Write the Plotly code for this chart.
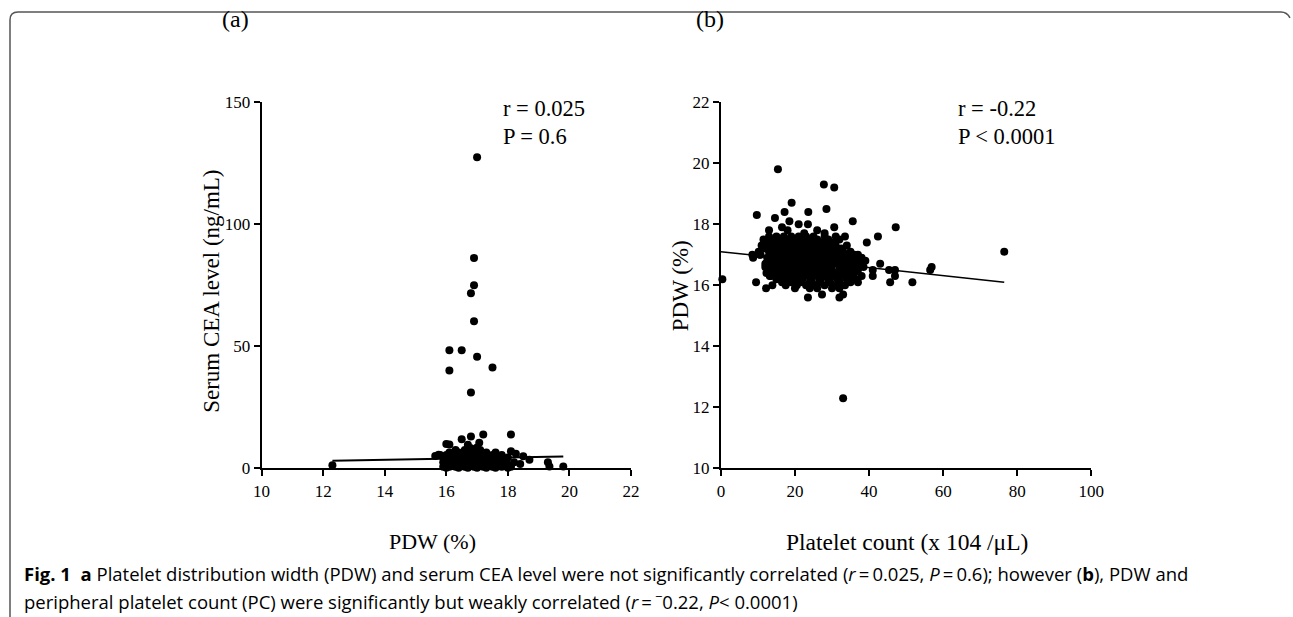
import plotly.graph_objects as go

W, H = 1293, 617
# effective drawing canvas observed in the renderer (page inset)
OFFX, EW = 8, 1274
OFFY, EH = 7, 604

# ---------------- Panel (a): PDW vs serum CEA ----------------
a_outliers = [(17.0, 127.4), (16.9, 86.2), (16.9, 75.0), (16.8, 71.7), (16.9, 60.3),
              (16.1, 48.4), (16.5, 48.4), (17.0, 45.7), (16.1, 40.1), (17.5, 41.3),
              (16.8, 31.1), (17.2, 13.9), (18.1, 13.9), (16.8, 13.1), (16.5, 11.9),
              (16.0, 10.0), (16.1, 9.8), (16.7, 9.7), (17.07, 10.5), (18.1, 7.0),
              (12.3, 1.3), (19.8, 0.8), (19.3, 2.5), (19.35, 0.8), (18.7, 3.5),
              (18.4, 1.8), (18.26, 6.0), (18.5, 5.0), (15.64, 5.1), (15.75, 5.6)]
a_cluster = [
    (16.3, 7.5), (16.6, 7.5), (16.9, 7.5), (17.1, 7.5), (17.0, 8.6), (16.8, 8.2),
    (16.1, 6.5), (16.4, 6.5), (16.7, 6.5), (17.0, 6.5), (17.3, 6.5), (17.6, 6.5),
    (15.8, 5.5), (16.0, 5.5), (16.3, 5.5), (16.6, 5.5), (16.9, 5.5), (17.2, 5.5), (17.5, 5.5), (17.8, 5.5),
    (15.9, 4.5), (16.2, 4.5), (16.5, 4.5), (16.8, 4.5), (17.1, 4.5), (17.4, 4.5), (17.7, 4.5), (18.0, 4.5),
    (16.0, 3.5), (16.3, 3.5), (16.6, 3.5), (16.9, 3.5), (17.2, 3.5), (17.5, 3.5), (17.8, 3.5),
    (15.9, 2.5), (16.1, 2.5), (16.4, 2.5), (16.7, 2.5), (17.0, 2.5), (17.3, 2.5), (17.6, 2.5), (17.9, 2.5), (18.2, 2.5),
    (16.0, 1.5), (16.2, 1.5), (16.5, 1.5), (16.8, 1.5), (17.1, 1.5), (17.4, 1.5), (17.7, 1.5), (18.0, 1.5),
    (15.9, 0.7), (16.1, 0.7), (16.3, 0.7), (16.6, 0.7), (16.9, 0.7), (17.2, 0.7), (17.5, 0.7), (17.8, 0.7), (18.1, 0.7),
    (16.0, 0.3), (16.4, 0.3), (16.7, 0.3), (17.0, 0.3), (17.3, 0.3), (17.6, 0.3), (18.0, 0.3),
]
a_fit_x = [12.3, 19.8]
a_fit_y = [3.1, 4.9]

# ---------------- Panel (b): platelet count vs PDW ----------------
b_outliers = [(0.4, 16.2), (15.4, 19.8), (27.8, 19.3), (30.6, 19.2), (19.1, 18.7), (28.5, 18.5),
              (9.7, 18.3), (17.2, 18.4), (23.6, 18.4), (14.6, 18.2), (35.6, 18.1), (47.2, 17.9),
              (30.6, 17.9), (42.4, 17.6), (39.4, 17.4), (76.5, 17.1), (56.9, 16.6), (56.5, 16.5),
              (51.7, 16.1), (45.7, 16.1), (43.0, 16.7), (45.4, 16.5), (47.0, 16.5), (47.0, 16.3),
              (33.0, 12.3), (23.5, 15.6), (27.3, 15.7), (32.0, 15.6), (33.0, 15.7), (9.5, 16.1),
              (8.5, 17.0), (8.7, 16.9), (10.2, 17.1), (10.7, 17.0), (12.2, 15.9), (13.9, 16.0),
              (12.0, 16.6), (12.3, 16.4), (13.2, 16.3), (41.0, 16.5), (41.0, 16.3), (39.0, 16.8)]
b_cluster = [
    (13, 17.6), (15, 17.6), (17, 17.6), (19, 17.6), (21, 17.6), (23, 17.6), (25, 17.6), (28, 17.6), (31, 17.6), (33.5, 17.6),
    (11.5, 17.5), (14, 17.5), (16, 17.5), (18, 17.5), (20, 17.5), (22, 17.5), (24, 17.5), (26, 17.5), (29, 17.5), (32, 17.5),
    (12.5, 17.4), (15, 17.4), (17.5, 17.4), (19.5, 17.4), (21.5, 17.4), (23.5, 17.4), (25.5, 17.4), (27.5, 17.4), (30.5, 17.4), (34, 17.3),
    (11, 17.3), (13.5, 17.3), (16, 17.3), (18.5, 17.3), (20.5, 17.3), (22.5, 17.3), (24.5, 17.3), (26.5, 17.3), (29, 17.3), (31, 17.3),
    (12, 17.2), (14.5, 17.2), (17, 17.2), (19, 17.2), (21, 17.2), (23, 17.2), (25, 17.2), (27, 17.2), (28.5, 17.2), (30, 17.2), (32.5, 17.2), (35, 17.1),
    (13, 17.1), (15.5, 17.1), (18, 17.1), (20, 17.1), (22, 17.1), (24, 17.1), (26, 17.1), (28, 17.1), (31, 17.1), (33, 17.1), (36, 17.0),
    (10.5, 17.0), (14, 17.0), (16.5, 17.0), (19, 17.0), (21, 17.0), (23, 17.0), (25, 17.0), (27, 17.0), (29.5, 17.0), (32, 17.0), (34.5, 17.0), (37, 17.0),
    (12.5, 16.9), (15, 16.9), (17.5, 16.9), (20, 16.9), (22, 16.9), (24, 16.9), (26, 16.9), (28, 16.9), (30.5, 16.9), (33, 16.9), (35.5, 16.9), (38, 16.9),
    (13.5, 16.8), (16, 16.8), (18.5, 16.8), (21, 16.8), (23, 16.8), (25, 16.8), (27.5, 16.8), (29.5, 16.8), (31.5, 16.8), (34, 16.8), (36.5, 16.8),
    (12, 16.7), (14.5, 16.7), (17, 16.7), (19.5, 16.7), (22, 16.7), (24, 16.7), (26, 16.7), (28.5, 16.7), (30.5, 16.7), (33, 16.7), (35, 16.7), (37.5, 16.7),
    (13, 16.6), (15.5, 16.6), (18, 16.6), (20.5, 16.6), (23, 16.6), (25.5, 16.6), (27, 16.6), (29, 16.6), (32, 16.6), (34, 16.6), (36, 16.6), (38.5, 16.6),
    (14, 16.5), (16.5, 16.5), (19, 16.5), (21.5, 16.5), (24, 16.5), (26.5, 16.5), (28, 16.5), (30, 16.5), (33, 16.5), (35, 16.5), (37, 16.5),
    (15, 16.4), (17.5, 16.4), (20, 16.4), (22.5, 16.4), (25, 16.4), (27.5, 16.4), (29.5, 16.4), (31.5, 16.4), (34, 16.4), (36, 16.4),
    (13.5, 16.3), (16, 16.3), (18.5, 16.3), (21, 16.3), (23.5, 16.3), (26, 16.3), (28.5, 16.3), (30.5, 16.3), (33, 16.3), (35.5, 16.3), (38, 16.3),
    (15, 16.2), (17.5, 16.2), (20, 16.2), (22, 16.2), (24.5, 16.2), (27, 16.2), (29, 16.2), (31.5, 16.2), (34, 16.2), (36.5, 16.2),
    (16.5, 16.1), (19, 16.1), (21.5, 16.1), (24, 16.1), (26.5, 16.1), (29.5, 16.1), (32, 16.1), (35, 16.1), (37, 16.1),
    (17.5, 16.0), (20.5, 16.0), (23, 16.0), (25.5, 16.0), (28, 16.0), (31, 16.0), (33.5, 16.0),
    (20, 15.9), (24, 15.9), (26, 15.9), (30, 15.9), (32, 15.9),
    (16.5, 17.9), (18.5, 18.1), (21, 18.0), (23.5, 18.0), (26, 17.8), (28, 17.7), (13, 17.8), (18, 17.8), (22.5, 17.7),
]
b_fit_x = [0, 76.5]
b_fit_y = [17.1, 16.1]

# ---------------- Texts ----------------
a_stats = ["r = 0.025", "P = 0.6"]
b_stats = ["r = -0.22", "P < 0.0001"]
a_xticks = [10, 12, 14, 16, 18, 20, 22]
a_yticks = [0, 50, 100, 150]
b_xticks = [0, 20, 40, 60, 80, 100]
b_yticks = [10, 12, 14, 16, 18, 20, 22]

SERIF = "Liberation Serif, Times New Roman, serif"
CAPF = "Open Sans, Noto Sans, sans-serif"


def px2x(px):
    return (px - OFFX) / EW


def px2y(py):
    return 1 - (py - OFFY) / EH


a_pts = a_outliers + a_cluster
b_pts = b_outliers + b_cluster

fig = go.Figure()
mk = dict(color="black", size=8, line=dict(width=0))
fig.add_trace(go.Scatter(x=[p[0] for p in a_pts], y=[p[1] for p in a_pts], mode="markers",
                         marker=mk, cliponaxis=False, xaxis="x", yaxis="y", showlegend=False))
fig.add_trace(go.Scatter(x=a_fit_x, y=a_fit_y, mode="lines", line=dict(color="black", width=2),
                         xaxis="x", yaxis="y", showlegend=False))
fig.add_trace(go.Scatter(x=[p[0] for p in b_pts], y=[p[1] for p in b_pts], mode="markers",
                         marker=mk, cliponaxis=False, xaxis="x2", yaxis="y2", showlegend=False))
fig.add_trace(go.Scatter(x=b_fit_x, y=b_fit_y, mode="lines", line=dict(color="black", width=1.5),
                         xaxis="x2", yaxis="y2", showlegend=False))

ax_common = dict(showgrid=False, zeroline=False, showline=True, linecolor="black", linewidth=2,
                 ticks="outside", ticklen=6, tickwidth=2, tickcolor="black",
                 tickfont=dict(family=SERIF, size=17, color="black"), fixedrange=True)

ydom = [px2y(471), px2y(101)]
fig.update_layout(
    width=W, height=H, autosize=False, margin=dict(l=0, r=0, t=0, b=0, pad=0),
    paper_bgcolor="white", plot_bgcolor="white", showlegend=False,
    xaxis=dict(domain=[px2x(262), px2x(632)], range=[10, 22], tickvals=a_xticks, anchor="y", **ax_common),
    yaxis=dict(domain=ydom, range=[0, 150], tickvals=a_yticks, anchor="x", **ax_common),
    xaxis2=dict(domain=[px2x(722), px2x(1093)], range=[0, 100], tickvals=b_xticks, anchor="y2", **ax_common),
    yaxis2=dict(domain=ydom, range=[10, 22], tickvals=b_yticks, anchor="x2", **ax_common),
)

ann = []


def txt(x, y, s, size, family=SERIF, xanchor="center", yanchor="middle", angle=0):
    ann.append(dict(x=px2x(x), y=px2y(y), xref="paper", yref="paper", text=s, showarrow=False,
                    xanchor=xanchor, yanchor=yanchor, textangle=angle,
                    font=dict(family=family, size=size, color="black")))


txt(236, 17, "(a)", 24)
txt(711, 17, "(b)", 24)
txt(502, 108, a_stats[0], 22.5, xanchor="left")
txt(502, 136, a_stats[1], 22.5, xanchor="left")
txt(957, 108, b_stats[0], 22.5, xanchor="left")
txt(957, 136, b_stats[1], 22.5, xanchor="left")
txt(211, 292, "Serum CEA level (ng/mL)", 23, angle=-90)
txt(681, 286, "PDW (%)", 23, angle=-90)
txt(433, 545, "PDW (%)", 22)
txt(908, 545, "Platelet count (x 104 /μL)", 23.5)

cap1 = ("<b>Fig. 1</b>  <b>a</b> Platelet distribution width (PDW) and serum CEA level were not significantly "
        "correlated (<i>r</i>\u2009=\u20090.025, <i>P</i>\u2009=\u20090.6); however (<b>b</b>), PDW and")
cap2 = ("peripheral platelet count (PC) were significantly but weakly correlated "
        "(<i>r</i>\u2009=\u2009<sup>−</sup>0.22, <i>P</i>&lt; 0.0001)")
txt(22, 577, cap1, 18.5, family=CAPF, xanchor="left")
txt(22, 604, cap2, 18.5, family=CAPF, xanchor="left")
fig.update_layout(annotations=ann)

# Figure frame (rounded top corners, open left edge to bottom)
r = 8
path = (f"M {px2x(10)},{px2y(622)} L {px2x(10)},{px2y(10 + r)} "
        f"Q {px2x(10)},{px2y(10)} {px2x(10 + r)},{px2y(10)} "
        f"L {px2x(1283)},{px2y(10)} Q {px2x(1289)},{px2y(10)} {px2x(1292)},{px2y(16)}")
fig.add_shape(type="path", path=path, xref="paper", yref="paper",
              line=dict(color="#555555", width=1.5))

post = ("document.body.style.margin='0';document.body.style.overflow='hidden';"
        "var gd=document.getElementById('{plot_id}');"
        "gd.style.width='1293px';gd.style.height='617px';"
        "Plotly.relayout(gd,{width:1293,height:617});")
fig.write_html("out.html", config={"displayModeBar": False}, post_script=post)
